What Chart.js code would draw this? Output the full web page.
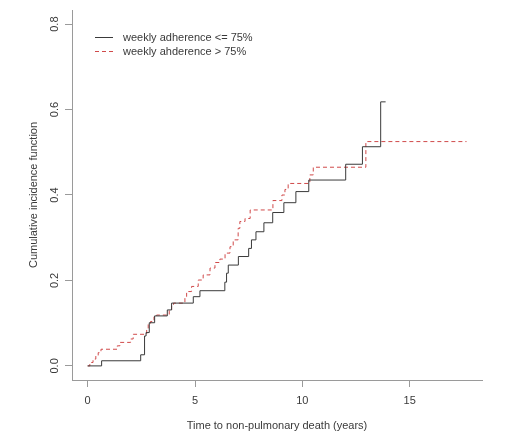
<!DOCTYPE html>
<html>
<head>
<meta charset="utf-8">
<script src="https://cdn.jsdelivr.net/npm/chart.js@4"></script>
<style>
  html, body { margin: 0; padding: 0; background: #ffffff; }
  #wrap { width: 528px; height: 444px; }
</style>
</head>
<body>
<div id="wrap"><canvas id="c" width="528" height="444"></canvas></div>
<script>
// ---- data ----
const seriesLabels = ["weekly adherence <= 75%", "weekly ahderence > 75%"];

const lowTimes  = [0, 0.65, 2.47, 2.65, 2.72, 2.87, 3.12, 3.71, 3.91, 4.92, 5.23, 6.39, 6.47, 6.55, 7.02, 7.50, 7.63, 7.84, 8.21, 8.62, 9.14, 9.70, 10.30, 12.02, 12.80, 13.65, 13.88];
const lowValues = [0, 0.012, 0.026, 0.070, 0.078, 0.101, 0.117, 0.131, 0.147, 0.162, 0.176, 0.196, 0.217, 0.236, 0.256, 0.275, 0.295, 0.314, 0.335, 0.359, 0.382, 0.408, 0.435, 0.472, 0.513, 0.618, 0.618];

const highTimes  = [0, 0.10, 0.25, 0.38, 0.49, 0.62, 1.38, 1.50, 2.00, 2.12, 2.75, 2.82, 2.93, 3.09, 3.21, 3.80, 3.91, 4.00, 4.53, 4.61, 4.84, 5.15, 5.38, 5.70, 5.93, 6.16, 6.40, 6.63, 6.78, 7.01, 7.09, 7.33, 7.57, 8.63, 9.05, 9.19, 9.34, 10.35, 10.51, 12.96, 17.65];
const highValues = [0, 0.008, 0.016, 0.023, 0.031, 0.039, 0.047, 0.055, 0.063, 0.074, 0.084, 0.100, 0.104, 0.115, 0.119, 0.131, 0.143, 0.147, 0.162, 0.174, 0.186, 0.201, 0.213, 0.229, 0.242, 0.250, 0.264, 0.279, 0.295, 0.322, 0.338, 0.345, 0.365, 0.387, 0.400, 0.413, 0.427, 0.447, 0.465, 0.525, 0.525];

const xTicks = [0, 5, 10, 15];
const yTicks = [0, 0.2, 0.4, 0.6, 0.8];
const xTitle = "Time to non-pulmonary death (years)";
const yTitle = "Cumulative incidence function";

// ---- chart ----
const axisColor = '#9a9a9a';
const textColor = '#3a3a3a';
const lineColors = ['#3a3a3a', '#d04a4a'];
const lineDashes = [[], [4, 3]];

Chart.defaults.font.family = "'Liberation Sans', Arial, sans-serif";
Chart.defaults.font.size = 11;
Chart.defaults.color = textColor;

function toPoints(ts, vs) { return ts.map((t, i) => ({ x: t, y: vs[i] })); }

const legendInside = {
  id: 'legendInside',
  afterDraw(chart) {
    const ctx = chart.ctx;
    const ds = chart.data.datasets;
    ctx.save();
    ds.forEach((d, i) => {
      const y = 37 + i * 14;
      ctx.strokeStyle = d.borderColor;
      ctx.lineWidth = 1;
      ctx.setLineDash(d.borderDash || []);
      ctx.beginPath();
      ctx.moveTo(95, y + 0.5);
      ctx.lineTo(113, y + 0.5);
      ctx.stroke();
      ctx.setLineDash([]);
      ctx.fillStyle = textColor;
      ctx.font = "11px 'Liberation Sans', Arial, sans-serif";
      ctx.textBaseline = 'middle';
      ctx.textAlign = 'left';
      ctx.fillText(d.label, 123, y + 0.5);
    });
    ctx.restore();
  }
};

new Chart(document.getElementById('c'), {
  type: 'line',
  data: {
    datasets: [
      { label: seriesLabels[0], data: toPoints(lowTimes, lowValues), borderColor: lineColors[0], borderDash: lineDashes[0], borderWidth: 1, stepped: true, pointRadius: 0, fill: false },
      { label: seriesLabels[1], data: toPoints(highTimes, highValues), borderColor: lineColors[1], borderDash: lineDashes[1], borderWidth: 1, stepped: true, pointRadius: 0, fill: false }
    ]
  },
  options: {
    responsive: false,
    animation: false,
    layout: { padding: { top: 10, right: 46, left: 0, bottom: 0 } },
    plugins: { legend: { display: false }, tooltip: { enabled: false } },
    scales: {
      x: {
        type: 'linear',
        min: -0.73, max: 18.37,
        afterBuildTicks(s) { s.ticks = xTicks.map(v => ({ value: v })); },
        afterFit(s) { s.height = 64; },
        border: { display: true, color: axisColor, width: 1 },
        grid: { display: true, drawOnChartArea: false, drawTicks: true, tickLength: 7, color: axisColor },
        ticks: { padding: 7, color: textColor, maxRotation: 0, minRotation: 0, callback: v => String(v) },
        title: { display: true, text: xTitle, color: textColor, padding: { top: 0, bottom: 11 } }
      },
      y: {
        type: 'linear',
        min: -0.033, max: 0.833,
        afterBuildTicks(s) { s.ticks = yTicks.map(v => ({ value: v })); },
        afterFit(s) { s.width = 72; },
        border: { display: true, color: axisColor, width: 1 },
        grid: { display: true, drawOnChartArea: false, drawTicks: true, tickLength: 7, color: axisColor },
        ticks: { padding: 2, color: textColor, minRotation: 90, maxRotation: 90, crossAlign: 'center', callback: v => Number(v).toFixed(1) },
        title: { display: true, text: yTitle, color: textColor, padding: { top: 27, bottom: 0 } }
      }
    }
  },
  plugins: [legendInside]
});
</script>
</body>
</html>
